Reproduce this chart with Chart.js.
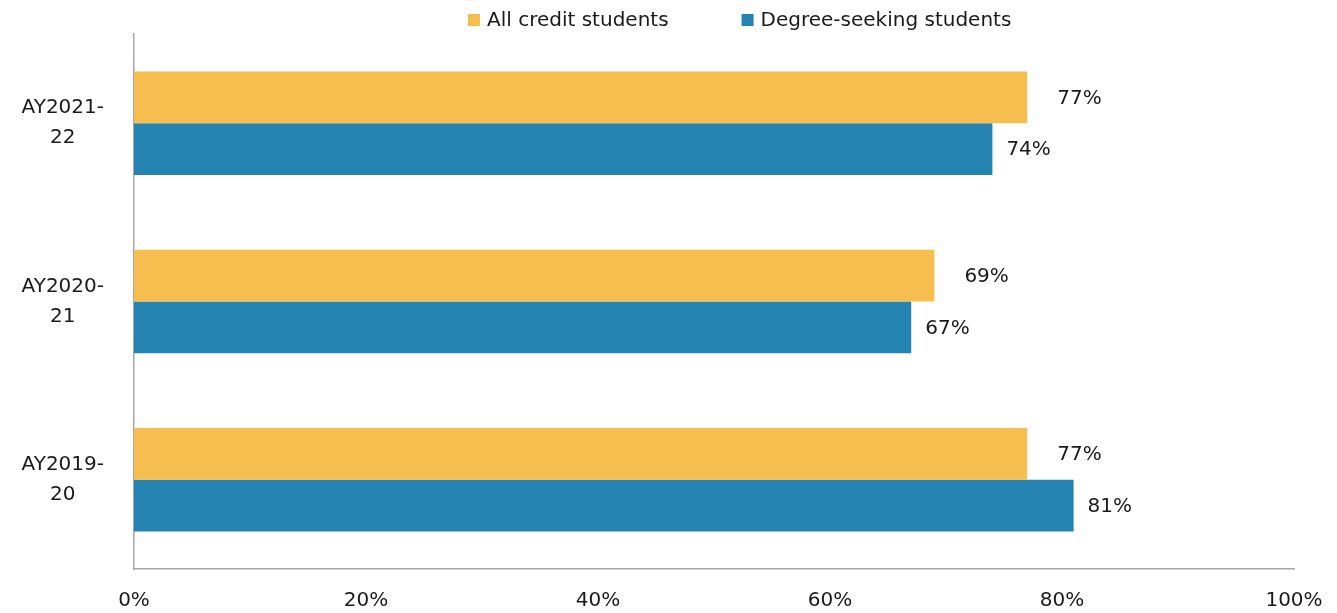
<!DOCTYPE html>
<html>
<head>
  <title>Credit students by academic year</title>
  <style>
    html, body { margin: 0; padding: 0; background: #fff; }
    #wrap { width: 1337px; height: 613px; }
  </style>
  <script src="https://cdn.jsdelivr.net/npm/chart.js"></script>
</head>
<body>
  <div id="wrap"><canvas id="chart"></canvas></div>
  <script>
    const categories = [['AY2021-', '22'], ['AY2020-', '21'], ['AY2019-', '20']];
    const allCredit = [77, 69, 77];
    const degreeSeeking = [74, 67, 81];
    const xTicks = [0, 20, 40, 60, 80, 100];

    const FONT = '"DejaVu Sans"';

    // value next to the end of each bar
    const valueLabels = {
      id: 'valueLabels',
      afterDatasetsDraw(chart) {
        const ctx = chart.ctx;
        ctx.save();
        ctx.font = '20px ' + FONT;
        ctx.fillStyle = '#1a1a1a';
        ctx.textBaseline = 'middle';
        ctx.textAlign = 'left';
        chart.data.datasets.forEach((ds, i) => {
          const gap = i === 0 ? 30 : 14;
          chart.getDatasetMeta(i).data.forEach((bar, j) => {
            ctx.fillText(ds.data[j] + '%', bar.x + gap, bar.y + 1);
          });
        });
        ctx.restore();
      }
    };

    // legend drawn by hand so the items can sit far apart
    const topLegend = {
      id: 'topLegend',
      afterDraw(chart) {
        const ctx = chart.ctx;
        ctx.save();
        ctx.font = '20px ' + FONT;
        ctx.textBaseline = 'middle';
        ctx.textAlign = 'left';
        let x = 468;
        const y = 20;
        chart.data.datasets.forEach((ds) => {
          ctx.fillStyle = ds.backgroundColor;
          ctx.fillRect(x, y - 6, 12, 12);
          ctx.fillStyle = '#1a1a1a';
          ctx.fillText(ds.label, x + 19, y + 1);
          x += 19 + ctx.measureText(ds.label).width + 73;
        });
        ctx.restore();
      }
    };

    Chart.defaults.font.family = FONT;
    Chart.defaults.font.size = 20;
    Chart.defaults.color = '#1a1a1a';

    new Chart(document.getElementById('chart'), {
      type: 'bar',
      data: {
        labels: categories,
        datasets: [
          { label: 'All credit students', data: allCredit, backgroundColor: '#F6BE4F' },
          { label: 'Degree-seeking students', data: degreeSeeking, backgroundColor: '#2583B1' }
        ]
      },
      options: {
        indexAxis: 'y',
        responsive: true,
        maintainAspectRatio: false,
        animation: false,
        layout: { padding: { left: 20, right: 43, top: 34, bottom: 0 } },
        datasets: { bar: { categoryPercentage: 0.58, barPercentage: 1 } },
        plugins: {
          legend: { display: false },
          tooltip: { enabled: false }
        },
        scales: {
          x: {
            min: 0, max: 100,
            afterBuildTicks: (s) => { s.ticks = xTicks.map(v => ({ value: v })); },
            afterFit: (s) => { s.paddingLeft = 0; s.paddingRight = 0; s.height = 44; },
            ticks: { callback: (v) => v + '%', padding: 20, font: { size: 20, lineHeight: 1.2 } },
            grid: { display: false, drawTicks: false },
            border: { color: '#a6a6a6', width: 1.5 }
          },
          y: {
            afterFit: (s) => { s.paddingTop = 0; s.paddingBottom = 0; s.width = 114; },
            ticks: { crossAlign: 'center', padding: 30, font: { size: 20, lineHeight: 1.5 } },
            grid: { display: false, drawTicks: false },
            border: { color: '#a6a6a6', width: 1.5 }
          }
        }
      },
      plugins: [valueLabels, topLegend]
    });
  </script>
</body>
</html>
